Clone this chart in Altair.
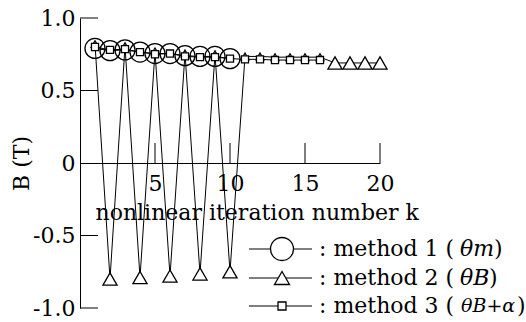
import altair as alt
import pandas as pd

# Flux density B (T) versus nonlinear iteration number k for three methods
k_all = list(range(1, 21))

method1_k = list(range(1, 11))
method1_b = [0.79, 0.775, 0.78, 0.765, 0.755, 0.755, 0.74, 0.735, 0.735, 0.72]

method2_k = k_all
method2_b = [0.82, -0.80, 0.805, -0.79, 0.77, -0.78, 0.755, -0.765, 0.75, -0.75,
             0.735, 0.735, 0.73, 0.73, 0.73, 0.73, 0.69, 0.69, 0.69, 0.69]

method3_k = list(range(1, 17))
method3_b = [0.80, 0.78, 0.785, 0.765, 0.75, 0.755, 0.735, 0.73, 0.73, 0.72,
             0.715, 0.715, 0.71, 0.71, 0.71, 0.71]

x_ticks = [5, 10, 15, 20]
y_ticks = [-1.0, -0.5, 0.5, 1.0]

legend_rows = [
    (": method 1 (", "θm", ")"),
    (": method 2 (", "θB", ")"),
    (": method 3 (", "θB+α", ")"),
]

FONT = "DejaVu Serif"
FS = 22
W, H = 300, 290

df1 = pd.DataFrame({"k": method1_k, "B": method1_b})
df2 = pd.DataFrame({"k": method2_k, "B": method2_b})
df3 = pd.DataFrame({"k": method3_k, "B": method3_b})

xs = alt.Scale(domain=[0, 20], nice=False, zero=False)
ys = alt.Scale(domain=[-1, 1], nice=False, zero=False)

x_enc = alt.X("k:Q", scale=xs, axis=alt.Axis(
    values=x_ticks, offset=-H / 2, tickSize=0, labelPadding=10, labelFlush=False,
    title="nonlinear iteration number k", titleX=15, titleY=49,
    titleAlign="left", titleBaseline="middle"))
y_enc = alt.Y("B:Q", scale=ys, axis=alt.Axis(
    values=[-1.0, -0.5, 0.0, 0.5, 1.0], tickSize=0, labelPadding=5, labelFlush=False,
    labelExpr="datum.value == 0 ? '0' : (datum.value < 0 ? '-' + format(-datum.value, '.1f') : format(datum.value, '.1f'))",
    title="B (T)", titleX=-59, titleY=H / 2, titleAngle=-90,
    titleAlign="center", titleBaseline="middle"))

line_style = dict(color="black", strokeWidth=1)
pt_style = dict(stroke="black", strokeWidth=1.3, opacity=1, strokeOpacity=1)

lines = [
    alt.Chart(d).mark_line(**line_style).encode(x=x_enc, y=y_enc)
    for d in (df1, df2, df3)
]

tri_big = alt.Chart(df2).transform_filter(
    "datum.B < 0 || datum.k >= 17"
).mark_point(shape="triangle-up", size=200, fill="white", fillOpacity=1, **pt_style).encode(
    x="k:Q", y="B:Q")
tri_small = alt.Chart(df2).transform_filter(
    "datum.B > 0 && datum.k < 17"
).mark_point(shape="triangle-up", size=60, fill="white", fillOpacity=1, **pt_style).encode(
    x="k:Q", y="B:Q")
squares = alt.Chart(df3).mark_point(
    shape="square", size=50, fill="white", fillOpacity=1, **pt_style).encode(x="k:Q", y="B:Q")
circles = alt.Chart(df1).mark_point(
    shape="circle", size=400, filled=False, **pt_style).encode(x="k:Q", y="B:Q")

# inward tick marks
xt = alt.Chart(pd.DataFrame({"k": x_ticks})).mark_tick(
    orient="vertical", size=20, thickness=1, color="black", yOffset=-10, opacity=1
).encode(x="k:Q", y=alt.datum(0))
yt = alt.Chart(pd.DataFrame({"B": y_ticks})).mark_tick(
    orient="horizontal", size=18, thickness=1, color="black", xOffset=9, opacity=1
).encode(y="B:Q", x=alt.datum(0))

# hand-built legend
row_y = [231, 260, 288]
shapes = [("circle", 529), ("triangle-up", 225), ("square", 64)]
legend_layers = []
one = pd.DataFrame({"i": [0]})
for (txt, ital, close), yy, (shp, sz) in zip(legend_rows, row_y, shapes):
    legend_layers.append(alt.Chart(one).mark_rule(color="black", strokeWidth=1).encode(
        x=alt.value(169), x2=alt.value(232), y=alt.value(yy)))
    legend_layers.append(alt.Chart(one).mark_point(
        shape=shp, size=sz, fill="white", fillOpacity=1, **pt_style).encode(
        x=alt.value(202), y=alt.value(yy)))
    legend_layers.append(alt.Chart(one).mark_text(
        text=txt, font=FONT, fontSize=FS, align="left", baseline="middle", color="black").encode(
        x=alt.value(239), y=alt.value(yy)))
legend_italic_x = [380, 380, 381]
legend_italic_fs = [FS, FS, 19]
legend_close_x = [414, 409, 437]
for (txt, ital, close), yy, xi, fi, xc in zip(legend_rows, row_y, legend_italic_x,
                                              legend_italic_fs, legend_close_x):
    legend_layers.append(alt.Chart(one).mark_text(
        text=ital, font=FONT, fontSize=fi, fontStyle="italic", align="left",
        baseline="middle", color="black").encode(x=alt.value(xi), y=alt.value(yy)))
    legend_layers.append(alt.Chart(one).mark_text(
        text=close, font=FONT, fontSize=FS, align="left", baseline="middle",
        color="black").encode(x=alt.value(xc), y=alt.value(yy)))

chart = alt.layer(
    *lines, tri_big, tri_small, squares, circles, xt, yt, *legend_layers
).properties(
    width=W, height=H,
    autosize=alt.AutoSizeParams(type="none"),
    padding={"left": 80, "top": 18, "right": 146, "bottom": 14},
    background="white",
).configure_view(stroke=None).configure_axis(
    grid=False, domainColor="black", domainWidth=1, labelColor="black",
    titleColor="black", labelFont=FONT, titleFont=FONT, labelFontSize=FS,
    titleFontSize=FS, titleFontWeight="normal", labelOverlap=False,
)

chart.save("out.html", embed_options={"renderer": "svg", "actions": False})
